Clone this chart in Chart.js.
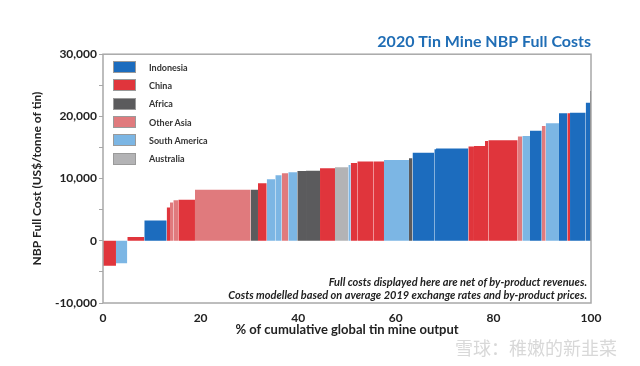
<!DOCTYPE html>
<html>
<head>
<meta charset="utf-8">
<script src="https://cdn.jsdelivr.net/npm/chart.js@4/dist/chart.umd.min.js"></script>
<style>
  html, body { margin: 0; padding: 0; background: #fff; }
  #wrap { position: relative; width: 640px; height: 366px; font-family: Lato, "Open Sans", sans-serif; }
  #legend { position: absolute; left: 113px; top: 58px; }
  #legend .row { display: flex; align-items: center; height: 18.3px; }
  #legend .sw { width: 23px; height: 12px; box-sizing: border-box; border: 1px solid #9a9a9a; margin-right: 13px; }
  #legend .lbl { font: bold 9px Lato, sans-serif; color: #333; }
  .note { position: absolute; right: 53px; font: italic bold 11px Lato, sans-serif; color: #222; white-space: nowrap; }
  #wm { position: absolute; left: 455px; top: 334px; font: 18px "Noto Sans CJK SC", sans-serif; color: #d8d8d8; }
</style>
</head>
<body>
<div id="wrap">
  <canvas id="c" width="640" height="366"></canvas>
  <div id="legend"></div>
  <div class="note" style="top:275px">Full costs displayed here are net of by-product revenues.</div>
  <div class="note" style="top:288px">Costs modelled based on average 2019 exchange rates and by-product prices.</div>
  <div id="wm">雪球：稚嫩的新韭菜</div>
</div>
<script>
/* Tin mine cost curve: each mine is a block, width = share of global output (%),
   height = NBP full cost (US$/t), ordered by cost. */
const regions = ["Indonesia", "China", "Africa", "Other Asia", "South America", "Australia"];
const regionColors = {
  "Indonesia": "#1c6cbe", "China": "#e0353c", "Africa": "#5b5b5d",
  "Other Asia": "#e07a7d", "South America": "#7cb6e4", "Australia": "#b3b3b5",
};

const mineShare = [2.66, 2.32, 3.48, 4.59, 0.68, 0.68, 1.02, 3.42, 11.42, 1.49,
  1.79, 1.76, 1.31, 1.35, 1.84, 1.79, 2.87, 3.07, 2.73, 0.49,
  1.35, 3.28, 2.19, 5.12, 0.72, 4.47, 0.35, 6.62, 1.16, 2.26,
  0.68, 6.02, 0.94, 1.58, 2.40, 0.82, 2.72, 1.70, 0.56, 3.21,
  0.89, 0.20];
const fullCost = [-4000, -3600, 600, 3260, 5350, 6150, 6500, 6580, 8200, 8200,
  9260, 9900, 10550, 10870, 11030, 11240, 11280, 11670, 11830, 12200,
  12520, 12730, 12730, 13000, 13270, 14170, 14700, 14830, 15150, 15250,
  16050, 16150, 16750, 16850, 17700, 18460, 18890, 20500, 20500, 20600,
  22200, 24100];
const mineRegion = ["China", "South America", "China", "Indonesia", "China", "Other Asia", "Other Asia", "China", "Other Asia", "Africa",
  "China", "South America", "South America", "Other Asia", "South America", "Africa", "Africa", "China", "Australia", "South America",
  "China", "China", "China", "South America", "Africa", "Indonesia", "Indonesia", "Indonesia", "China", "China",
  "China", "China", "Other Asia", "South America", "Indonesia", "Other Asia", "South America", "Indonesia", "China", "Indonesia",
  "Indonesia", "Africa"];

const xTicks = [0, 20, 40, 60, 80, 100];

// cumulative output positions -> one filled block per mine
let cum = 0;
const datasets = mineShare.map((w, i) => {
  const x0 = cum; cum += w;
  const col = regionColors[mineRegion[i]];
  return {
    label: mineRegion[i],
    data: [{ x: x0, y: fullCost[i] }, { x: Math.min(cum, 100), y: fullCost[i] }],
    fill: "origin", backgroundColor: col, borderColor: "rgba(0,0,0,0)", borderWidth: 0,
    pointRadius: 0, tension: 0,
  };
});

const frame = {
  id: "frame",
  afterDraw(chart) {
    const { ctx, chartArea: a } = chart;
    ctx.save();
    ctx.strokeStyle = "#a8a8a8"; ctx.lineWidth = 1.5;
    ctx.strokeRect(a.left, a.top, a.right - a.left, a.bottom - a.top);
    ctx.restore();
  },
};

const tickFont = { family: "Lato", weight: "bold", size: 12 };
new Chart(document.getElementById("c"), {
  type: "line",
  data: { datasets },
  plugins: [frame],
  options: {
    responsive: false, animation: false, events: [],
    layout: { padding: { left: 26, right: 49, top: 29, bottom: 20 } },
    plugins: {
      legend: { display: false }, tooltip: { enabled: false },
      title: {
        display: true, text: "2020 Tin Mine NBP Full Costs", align: "end", color: "#1f6db5",
        font: { family: "Lato", weight: "bold", size: 16 }, padding: { top: 3, bottom: 3 },
      },
    },
    scales: {
      x: {
        type: "linear", min: 0, max: 100,
        afterBuildTicks: s => { s.ticks = xTicks.map(v => ({ value: v })); },
        afterFit: s => { s.height = 43; },
        grid: { display: false, drawTicks: false },
        border: { display: false },
        ticks: { font: tickFont, color: "#222", padding: 8, maxRotation: 0 },
        title: { display: true, text: "% of cumulative global tin mine output", color: "#222",
          font: { family: "Lato", weight: "bold", size: 13 }, padding: { top: 0, bottom: 8 } },
      },
      y: {
        min: -10000, max: 30000,
        afterFit: s => { s.width = 77; },
        grid: { drawOnChartArea: false, tickLength: 4, color: "#a8a8a8" },
        border: { display: false },
        ticks: { stepSize: 5000, font: tickFont, color: "#222", padding: 2,
          callback: v => v % 10000 === 0 ? v.toLocaleString("en-US") : "" },
        title: { display: true, text: "NBP Full Cost (US$/tonne of tin)", color: "#222",
          font: { family: "Lato", weight: "bold", size: 12 }, padding: { top: 4, bottom: 0 } },
      },
    },
  },
});

// legend drawn as HTML inside the plot area
const lg = document.getElementById("legend");
regions.forEach(r => {
  const row = document.createElement("div");
  row.className = "row";
  row.innerHTML = `<span class="sw" style="background:${regionColors[r]}"></span><span class="lbl">${r}</span>`;
  lg.appendChild(row);
});
</script>
</body>
</html>
